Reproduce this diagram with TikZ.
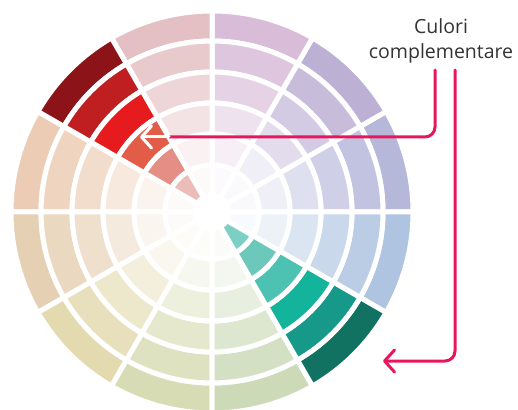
\documentclass[tikz,border=0pt]{standalone}
\usepackage{fontspec}
\setmainfont{Open Sans}
\usetikzlibrary{arrows.meta}
% pale sectors
\definecolor{wheelSky}{HTML}{AEC4E0}
\definecolor{wheelLilac}{HTML}{B6B8DA}
\definecolor{wheelViolet}{HTML}{BCB0D4}
\definecolor{wheelMauve}{HTML}{D8BCD8}
\definecolor{wheelRose}{HTML}{E4C0C4}
\definecolor{wheelPeach}{HTML}{ECCCB4}
\definecolor{wheelTan}{HTML}{E6D0B4}
\definecolor{wheelSand}{HTML}{E4DAB0}
\definecolor{wheelOlive}{HTML}{D8DCB4}
\definecolor{wheelSage}{HTML}{CCDAB8}
% complementary pair
\definecolor{redA}{HTML}{8C1419}
\definecolor{redB}{HTML}{C01F22}
\definecolor{redC}{HTML}{E61B1E}
\definecolor{redD}{HTML}{E25C48}
\definecolor{redE}{HTML}{E48E86}
\definecolor{redF}{HTML}{ECBCB8}
\definecolor{tealA}{HTML}{127262}
\definecolor{tealB}{HTML}{17998A}
\definecolor{tealC}{HTML}{14B39C}
\definecolor{tealD}{HTML}{4EC2B2}
\definecolor{tealE}{HTML}{6DC8BC}
\definecolor{tealF}{HTML}{7DCFC6}
\definecolor{pinkline}{HTML}{E8175D}
\definecolor{labelgray}{HTML}{333333}

\begin{document}
\begin{tikzpicture}[x=1pt,y=1pt,
    seg/.style={draw=white, line width=5pt, line join=round},
    pointer/.style={draw=pinkline, line width=3pt, line cap=round, rounded corners=10pt},
    barb/.style={-{Straight Barb[length=10pt, width=22pt, round]}}]
    \useasboundingbox (0,0) rectangle (518,409);
    \begin{scope}[shift={(212,197)}]
    % pale sectors
    \foreach \a/\base [evaluate=\a as \b using \a+30] in {0/wheelLilac,30/wheelViolet,60/wheelMauve,90/wheelRose,150/wheelPeach,180/wheelTan,210/wheelSand,240/wheelOlive,270/wheelSage,330/wheelSky}
    \foreach \ro/\ri/\p in {201/171/100,171/140/84,140/109/66,109/78/44,78/47/22,47/17/8}
    \filldraw[seg, fill=\base!\p!white] (\a:\ro) arc[start angle=\a, end angle=\b, radius=\ro] -- (\b:\ri) arc[start angle=\b, end angle=\a, radius=\ri] -- cycle;
    % red and teal
    \foreach \ro/\ri/\cr/\ct in {201/171/redA/tealA,171/140/redB/tealB,140/109/redC/tealC,109/78/redD/tealD,78/47/redE/tealE,47/17/redF/tealF}
    {
    \filldraw[seg, fill=\cr] (120:\ro) arc[start angle=120, end angle=150, radius=\ro] -- (150:\ri) arc[start angle=150, end angle=120, radius=\ri] -- cycle;
    \filldraw[seg, fill=\ct] (300:\ro) arc[start angle=300, end angle=330, radius=\ro] -- (330:\ri) arc[start angle=330, end angle=300, radius=\ri] -- cycle;
    }
    \end{scope}
    % label and pointers
    \node[font=\fontsize{19.5}{25}\selectfont, text=labelgray, align=center, inner xsep=0pt, inner ysep=7pt, anchor=south] (label) at (441,339) {Culori\\complementare};
    \coordinate (redJoin) at (169,272);
    \coordinate (redTip) at (140,272);
    \coordinate (tealTip) at (383,48);
    \draw[pointer] ([xshift=-6pt]label.south) |- (redJoin);
    \draw[pointer, draw=white, barb] (redJoin) -- (redTip);
    \draw[pointer, barb] ([xshift=14pt]label.south) |- (tealTip);
\end{tikzpicture}
\end{document}
